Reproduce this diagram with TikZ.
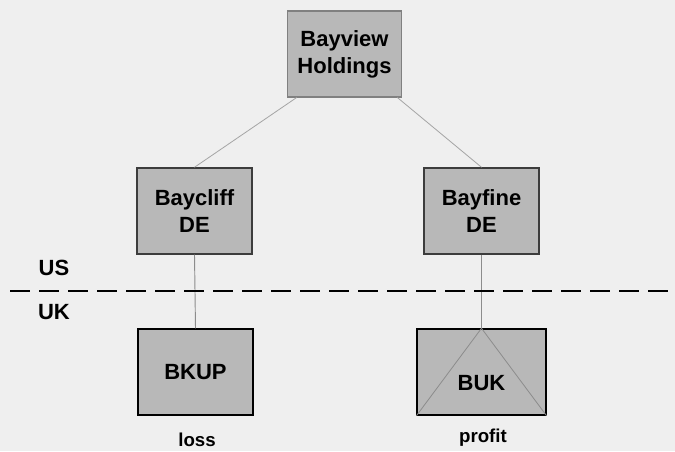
\documentclass[tikz,border=0pt]{standalone}
\usepackage{fontspec}
\setmainfont{Liberation Sans}
\usepackage{tikz}
\usetikzlibrary{calc}
\usepackage{xcolor}
\definecolor{bggray}{RGB}{239,239,239}
\definecolor{boxgray}{RGB}{184,184,184}
\definecolor{edgegray}{RGB}{60,60,60}
\definecolor{linkgray}{RGB}{165,165,165}
\definecolor{stemgray}{RGB}{140,140,140}
\tikzset{
  entity/.style={draw=edgegray,fill=boxgray,line width=1.1pt,minimum width=86pt,minimum height=64.5pt,
    align=center,inner sep=2pt,font=\fontsize{16.5}{20.25}\selectfont\bfseries},
  entitytop/.style={entity,draw=black!50,line width=0.8pt},
  entityuk/.style={entity,draw=black},
  link/.style={draw=linkgray,line width=0.6pt},
  stem/.style={draw=stemgray,line width=0.7pt},
  border/.style={draw=black,line width=1.9pt,dash pattern=on 15pt off 6.75pt},
  zone/.style={font=\fontsize{16.5}{20}\selectfont\bfseries,inner sep=0pt},
  result/.style={font=\fontsize{14}{17}\selectfont\bfseries,inner sep=0pt}
}
\begin{document}
\begin{tikzpicture}[x=0.75pt,y=-0.75pt]
  \fill[bggray] (0,0) rectangle (675,451);
  \useasboundingbox (0,0) rectangle (675,451);

  \node[entitytop] (bayview) at (344.5,54) {Bayview\\Holdings};
  \node[entity] (baycliff) at (194.5,211) {Baycliff\\DE};
  \node[entity] (bayfine) at (481.5,211) {Bayfine\\DE};
  \node[entityuk] (bkup) at (195.5,372) {BKUP};
  \node[entityuk,minimum width=96.5pt] (buk) at (481.5,372) {};

  \draw[link] ([xshift=7.5pt]bayview.south west) -- (baycliff.north);
  \draw[link] ([xshift=-3.75pt]bayview.south east) -- (bayfine.north);
  \draw[stem] (baycliff.south) -- (bkup.north);
  \draw[stem] (bayfine.south) -- (buk.north);
  \draw[stem,line width=0.6pt] (buk.south west) -- (buk.north) -- (buk.south east);
  \node[font=\fontsize{16.5}{20.25}\selectfont\bfseries] (buktxt) at ($(buk.center)+(0,11)$) {BUK};

  \coordinate (divl) at (10,291);
  \coordinate (divr) at (675,291);
  \draw[border] (divl) -- (divr);

  \node[zone] (uslbl) at (54,268) {US};
  \node[zone] (uklbl) at (54,312) {UK};
  \node[result] (losslbl) at (197,440) {loss};
  \node[result] (profitlbl) at (483,438) {profit};
\end{tikzpicture}
\end{document}
